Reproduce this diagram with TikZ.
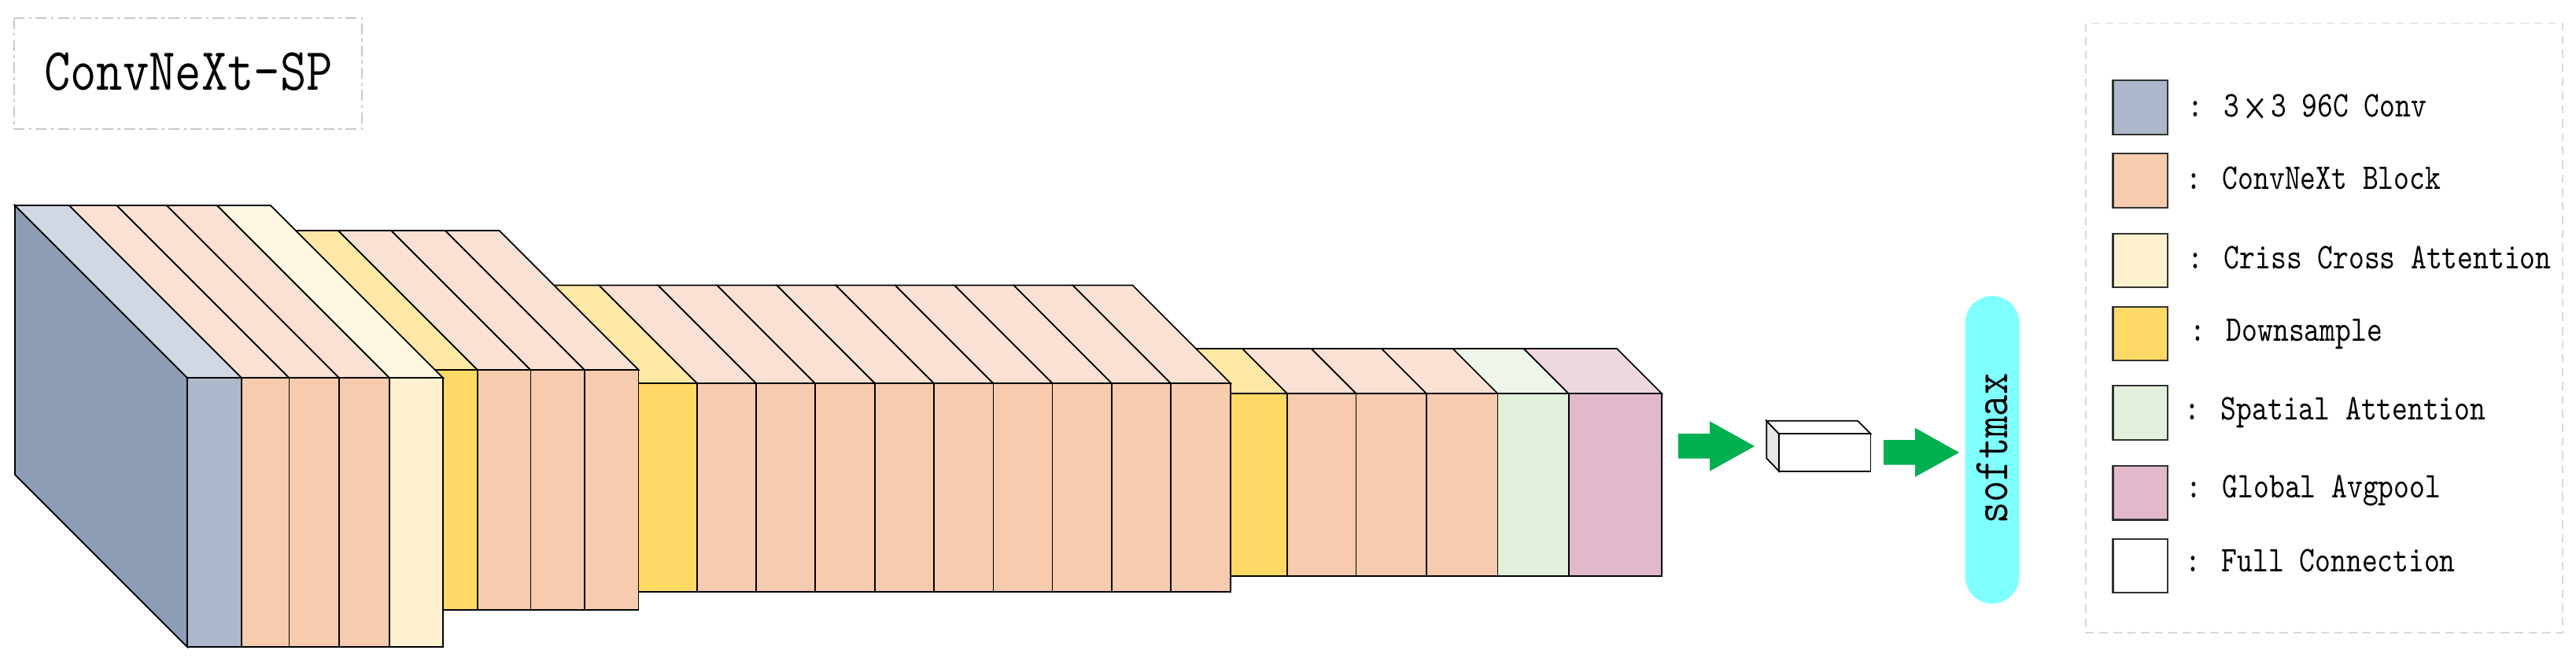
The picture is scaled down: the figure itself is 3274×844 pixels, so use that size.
\documentclass[tikz,border=0pt]{standalone}
\usepackage{fontspec}
\newfontfamily\crossfont{Liberation Serif}
\definecolor{convside}{HTML}{8C9DB5}
\definecolor{convfront}{HTML}{ADB9CA}
\definecolor{convtop}{HTML}{D0D9E3}
\definecolor{cnbfront}{HTML}{F7CBAE}
\definecolor{cnbtop}{HTML}{FAE1D3}
\definecolor{ccafront}{HTML}{FFF1CE}
\definecolor{ccatop}{HTML}{FEF7E1}
\definecolor{dsfront}{HTML}{FED966}
\definecolor{dstop}{HTML}{FFE8A6}
\definecolor{safront}{HTML}{E2EFDA}
\definecolor{satop}{HTML}{EEF6EB}
\definecolor{gapfront}{HTML}{E1B9CB}
\definecolor{gaptop}{HTML}{EDD8E2}
\definecolor{fcside}{HTML}{E6E6E6}
\definecolor{arrowgreen}{HTML}{00B050}
\definecolor{smx}{HTML}{80FFFF}
\definecolor{boxgray}{HTML}{C8C8C8}
\definecolor{leggray}{HTML}{D9D9D9}
\tikzset{
  edge/.style={draw=black, line width=0.5pt, line join=miter},
  swatch/.style={draw=black!80, line width=0.6pt},
  lbl/.style={anchor=base west, inner sep=0pt, font=\ttfamily\fontsize{10.72pt}{12pt}\selectfont},
  greenarrow/.style={fill=arrowgreen, draw=none},
}
% #1 x-left  #2 x-right  #3 y-top  #4 y-bottom  #5 depth  #6 front colour  #7 top colour
\newcommand{\drawslab}[7]{%
  \filldraw[edge, fill=#7] (#1,#3) -- (#2,#3) -- ({#2-#5},{#3-#5}) -- ({#1-#5},{#3-#5}) -- cycle;
  \filldraw[edge, fill=#6] (#1,#3) rectangle (#2,#4);
}
\newcommand{\lgd}[1]{\scalebox{1}[1.22]{#1}}
\begin{document}
\begin{tikzpicture}[x=0.01cm,y=-0.01cm]
\useasboundingbox (0,0) rectangle (3274,844);

% ---------- title ----------
\draw[boxgray, line width=0.6pt, dash pattern=on 4pt off 1.5pt on 1pt off 1.5pt] (18,22.6) rectangle (460,164);
\node[anchor=base, inner sep=0pt, font=\ttfamily\fontsize{18.4pt}{20pt}\selectfont] (title) at (239.6,114) {\scalebox{1}[1.18]{ConvNeXt-SP}};

% ---------- stage 4 ----------
\drawslab{1544}{1636}{500}{731.7}{57}{dsfront}{dstop}
\drawslab{1636}{1723.6}{500}{731.7}{57}{cnbfront}{cnbtop}
\drawslab{1723.6}{1813}{500}{731.7}{57}{cnbfront}{cnbtop}
\drawslab{1813}{1903.5}{500}{731.7}{57}{cnbfront}{cnbtop}
\drawslab{1903.5}{1993.7}{500}{731.7}{57}{safront}{satop}
\drawslab{1993.7}{2112}{500}{731.7}{57}{gapfront}{gaptop}

% ---------- stage 3 ----------
\drawslab{795}{886}{487}{752}{124.5}{dsfront}{dstop}
\foreach \a/\b in {886/961, 961/1036, 1036/1112, 1112/1187, 1187/1262.5, 1262.5/1337.6, 1337.6/1413, 1413/1488, 1488/1564}
  {\drawslab{\a}{\b}{487}{752}{124.5}{cnbfront}{cnbtop}}

% ---------- stage 2 ----------
\drawslab{543}{607}{470}{775}{177}{dsfront}{dstop}
\drawslab{607}{674.5}{470}{775}{177}{cnbfront}{cnbtop}
\drawslab{674.5}{743}{470}{775}{177}{cnbfront}{cnbtop}
\drawslab{743}{811.6}{470}{775}{177}{cnbfront}{cnbtop}

% ---------- stage 1 ----------
\filldraw[edge, fill=convside] (19,261) -- (238,480) -- (238,822) -- (19,603) -- cycle;
\drawslab{238}{306.8}{480}{822}{219}{convfront}{convtop}
\drawslab{306.8}{367.5}{480}{822}{219}{cnbfront}{cnbtop}
\drawslab{367.5}{431}{480}{822}{219}{cnbfront}{cnbtop}
\drawslab{431}{495}{480}{822}{219}{cnbfront}{cnbtop}
\drawslab{495}{563}{480}{822}{219}{ccafront}{ccatop}

% ---------- arrows, FC, softmax ----------
\fill[greenarrow] (2133,551) -- (2173,551) -- (2173,535.3) -- (2230,567) -- (2173,598.7) -- (2173,582.7) -- (2133,582.7) -- cycle;
\filldraw[edge, fill=fcside] (2245.2,534.7) -- (2261,551.3) -- (2261,598.7) -- (2245.2,582.3) -- cycle;
\filldraw[edge, fill=white] (2245.2,534.7) -- (2361,534.7) -- (2377.6,551.3) -- (2261,551.3) -- cycle;
\filldraw[edge, fill=white] (2261,551.3) rectangle (2377.6,598.7);
\fill[greenarrow] (2394,559) -- (2434,559) -- (2434,543.7) -- (2490,575) -- (2434,606) -- (2434,590.7) -- (2394,590.7) -- cycle;
\node[fill=smx, draw=none, rounded corners=9.7pt, minimum width=19.5pt, minimum height=111.1pt, inner sep=0pt] (smbar) at (2532.2,571.5) {};
\node[rotate=90, inner sep=0pt, font=\ttfamily\fontsize{15.1pt}{17pt}\selectfont] (smtext) at (2532,570) {\scalebox{1}[1.2]{softmax}};

% ---------- legend ----------
\draw[leggray, line width=0.5pt, dash pattern=on 3pt off 2pt] (2651.3,29.6) rectangle (3257.3,803.7);
\filldraw[swatch, fill=convfront] (2685.5,101.7) rectangle (2754.7,171.2);
\filldraw[swatch, fill=cnbfront]  (2685.5,194.9) rectangle (2754.7,263.8);
\filldraw[swatch, fill=ccafront]  (2685.5,296.6) rectangle (2754.7,365);
\filldraw[swatch, fill=dsfront]   (2685.5,389.7) rectangle (2754.7,458.1);
\filldraw[swatch, fill=safront]   (2685.5,490.4) rectangle (2754.7,558.8);
\filldraw[swatch, fill=gapfront]  (2685.5,591.6) rectangle (2754.7,660.5);
\filldraw[swatch, fill=white]     (2685.5,684.7) rectangle (2754.7,753.1);
\node[lbl] (l1) at (2780,148)   {\lgd{: 3\makebox[1.05em]{\raisebox{-0.24em}{\crossfont\fontsize{15pt}{15pt}\selectfont ×}}3 96C Conv}};
\node[lbl] (l2) at (2778,240.6) {\lgd{: ConvNeXt Block}};
\node[lbl] (l3) at (2780,341.8) {\lgd{: Criss Cross Attention}};
\node[lbl] (l4) at (2783,433.3) {\lgd{: Downsample}};
\node[lbl] (l5) at (2776,533)   {\lgd{: Spatial Attention}};
\node[lbl] (l6) at (2778,632.5) {\lgd{: Global Avgpool}};
\node[lbl] (l7) at (2777,726.7) {\lgd{: Full Connection}};
\end{tikzpicture}
\end{document}
